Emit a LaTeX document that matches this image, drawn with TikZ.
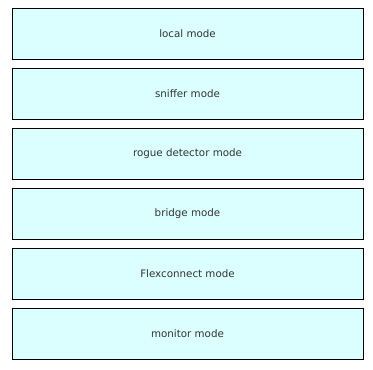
\documentclass[tikz,border=0pt]{standalone}
\usepackage{fontspec}
\setmainfont{DejaVu Sans}
\definecolor{boxfill}{HTML}{DBFFFF}
\definecolor{txt}{HTML}{333333}
\begin{document}
\begin{tikzpicture}[x=1pt,y=-1pt,
  modebox/.style={draw=black,line width=1pt,fill=boxfill,minimum width=351pt,minimum height=51pt,inner sep=0pt,text=txt,font=\fontsize{10.3}{12}\selectfont}]
\useasboundingbox[fill=white] (0,0) rectangle (373,370);
\node[modebox] (b1) at (187.5,33.5) {local mode};
\node[modebox] (b2) at (187.5,93.5) {sniffer mode};
\node[modebox] (b3) at (187.5,153.5) {rogue detector mode};
\node[modebox] (b4) at (187.5,213.5) {bridge mode};
\node[modebox] (b5) at (187.5,273.5) {Flexconnect mode};
\node[modebox] (b6) at (187.5,333.5) {monitor mode};
\end{tikzpicture}
\end{document}
